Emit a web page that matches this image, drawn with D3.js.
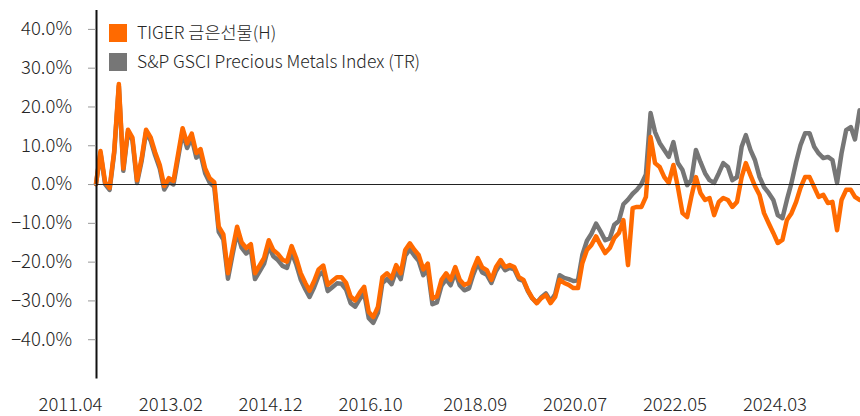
<!DOCTYPE html>
<html><head><meta charset="utf-8">
<script src="https://cdn.jsdelivr.net/npm/d3@7"></script>
<style>
html,body{margin:0;padding:0;background:#fff;}
svg{display:block;font-family:"Noto Sans CJK KR","Noto Sans",sans-serif;font-weight:300;}
</style></head>
<body><svg id="c" width="860" height="416"></svg>
<script>
// Monthly observations, 2011.04 ... 2025.04 (cumulative return, %)
const startMonth = "2011-04";
const seriesNames = ["TIGER 금은선물(H)", "S&P GSCI Precious Metals Index (TR)"];
const tigerValues = [
 0.0, 8.5, 0.5, -1.0, 8.5, 25.8, 4.0, 14.0, 12.0, 1.0,
 6.7, 14.0, 12.0, 8.2, 4.9, -0.5, 1.5, 0.8, 7.5, 14.4,
 10.5, 13.0, 8.0, 9.0, 4.0, 1.5, 0.5, -11.0, -13.0, -23.0,
 -17.0, -11.0, -15.0, -16.5, -15.5, -23.0, -21.0, -19.0, -14.5, -17.0,
 -18.0, -19.5, -20.0, -16.0, -19.0, -23.0, -25.5, -27.5, -25.0, -22.0,
 -21.0, -26.0, -25.0, -24.0, -24.0, -25.5, -29.0, -30.0, -28.0, -26.5,
 -33.0, -34.3, -31.7, -24.0, -23.0, -24.3, -20.9, -23.0, -17.0, -15.3,
 -17.0, -18.3, -22.0, -20.5, -29.5, -29.0, -24.7, -23.0, -24.7, -21.4,
 -24.7, -26.0, -25.5, -22.0, -19.1, -21.5, -22.2, -24.7, -21.4, -19.6,
 -21.4, -20.9, -21.4, -24.0, -24.7, -27.3, -29.4, -30.7, -29.4, -28.6,
 -30.7, -29.1, -24.7, -25.5, -26.0, -26.8, -26.8, -20.4, -17.0, -15.7,
 -13.5, -15.7, -17.8, -16.5, -13.9, -12.6, -9.3, -20.9, -6.2, -5.9,
 -5.9, -3.3, 12.1, 5.4, 4.4, 1.8, 0.3, 4.9, -0.8, -7.5,
 -8.5, -3.3, 1.8, -2.3, -4.1, -3.6, -8.0, -4.6, -3.6, -4.1,
 -5.9, -4.6, 1.8, 5.4, 2.3, -0.5, -2.8, -7.5, -10.1, -12.6,
 -15.2, -14.4, -9.3, -7.5, -4.6, -1.0, 1.8, 1.8, -0.8, -3.3,
 -2.8, -4.9, -4.6, -11.9, -4.1, -1.5, -1.5, -3.3, -4.1
];
const gsciValues = [
 0.0, 8.0, 0.0, -1.5, 8.0, 25.3, 3.4, 13.4, 11.3, 0.3,
 6.0, 13.3, 11.2, 7.4, 4.0, -1.4, 0.6, -0.1, 6.5, 13.4,
 9.3, 11.9, 6.8, 7.8, 2.8, 0.4, -0.7, -12.3, -14.3, -24.4,
 -18.3, -12.4, -16.4, -17.9, -16.9, -24.5, -22.5, -20.5, -16.0, -18.6,
 -19.6, -21.1, -21.6, -17.6, -20.6, -24.6, -27.1, -29.1, -26.6, -23.6,
 -22.6, -27.6, -26.6, -25.6, -25.7, -27.2, -30.7, -31.6, -29.6, -28.1,
 -34.6, -35.8, -33.2, -25.5, -24.5, -25.8, -22.4, -24.5, -18.5, -16.8,
 -18.5, -19.8, -23.5, -22.0, -31.0, -30.5, -26.2, -24.5, -26.1, -22.8,
 -26.1, -27.4, -26.9, -23.4, -20.4, -22.8, -23.4, -25.5, -22.4, -20.5,
 -22.2, -21.6, -22.0, -24.5, -25.0, -27.5, -29.5, -30.6, -29.2, -28.2,
 -30.2, -28.4, -23.5, -24.2, -24.5, -25.0, -24.8, -18.3, -14.6, -12.8,
 -10.2, -12.2, -14.5, -14.0, -10.5, -9.5, -5.2, -4.0, -2.5, -1.5,
 0.0, 2.5, 18.3, 13.4, 10.6, 8.8, 7.0, 10.8, 5.4, 3.6,
 -0.3, 1.0, 8.8, 5.7, 2.8, 1.0, 0.3, 2.8, 5.4, 4.4,
 1.0, 1.8, 9.6, 12.6, 8.8, 6.2, 1.8, -0.8, -2.3, -4.1,
 -8.0, -8.8, -4.1, 0.3, 5.7, 10.0, 13.1, 13.1, 9.6, 7.9,
 6.7, 7.0, 6.2, 0.3, 7.9, 13.9, 14.7, 11.5, 19.0
];
const yTicks = [-40, -30, -20, -10, 0, 10, 20, 30, 40];
const xTickLabels = ["2011.04", "2013.02", "2014.12", "2016.10", "2018.09", "2020.07", "2022.05", "2024.03"];
const colors = ["#ff6a00", "#767676"];

const svg = d3.select("#c");
const parseM = d3.utcParse("%Y-%m");
const parseL = d3.utcParse("%Y.%m");
const t0 = parseM(startMonth);
const months = d3.range(tigerValues.length).map(i => d3.utcMonth.offset(t0, i));

const x = d3.scaleUtc().domain([months[0], months[months.length - 1]]).range([96, 859.6]);
const y = d3.scaleLinear().domain([-50, 45]).range([378, 9.5]);
const font = "'Noto Sans CJK KR','Noto Sans',sans-serif";

// series
const line = d3.line().x((d, i) => x(months[i])).y(d => y(d)).curve(d3.curveLinear);
[gsciValues, tigerValues].forEach((vals, k) => {
  svg.append("path").datum(vals).attr("d", line).attr("fill", "none")
    .attr("stroke", k === 0 ? colors[1] : colors[0]).attr("stroke-width", 4.5)
    .attr("stroke-linejoin", "round").attr("stroke-linecap", "round");
});

// zero line (drawn over the series)
const y0 = Math.round(y(0)) + 0.5;
svg.append("line").attr("x1", 96).attr("x2", 860).attr("y1", y0).attr("y2", y0)
  .attr("stroke", "#222").attr("stroke-width", 1);

// y axis
const yAxis = d3.axisLeft(y).tickValues(yTicks).tickSize(8).tickSizeOuter(0)
  .tickFormat(d => d3.format(".1f")(d).replace("-", "\u2212") + "%");
const gy = svg.append("g").attr("transform", "translate(96,0)").call(yAxis);
gy.select(".domain").attr("stroke", "#111").attr("stroke-width", 2);
gy.selectAll(".tick line").attr("stroke", "#999");
gy.selectAll(".tick text").attr("x", -24).attr("fill", "#262626")
  .style("font-size", "18.5px").style("font-family", font).style("font-weight", 300);

// x axis labels
const xAxis = d3.axisBottom(x).tickValues(xTickLabels.map(parseL)).tickSize(0)
  .tickFormat(d3.utcFormat("%Y.%m"));
const gx = svg.append("g").attr("transform", "translate(-26,395)").call(xAxis);
gx.select(".domain").remove();
gx.selectAll(".tick text").attr("fill", "#262626").attr("dy", "0.72em")
  .style("font-size", "18.5px").style("font-family", font).style("font-weight", 300);

// legend
const lg = svg.append("g");
seriesNames.forEach((name, i) => {
  lg.append("rect").attr("x", 109).attr("y", 24 + i * 29).attr("width", 18).attr("height", 18)
    .attr("fill", colors[i]);
  lg.append("text").attr("x", 137).attr("y", 39 + i * 29).text(name)
    .attr("fill", "#262626").style("font-size", "17.5px").style("font-weight", 300);
});
</script></body></html>
